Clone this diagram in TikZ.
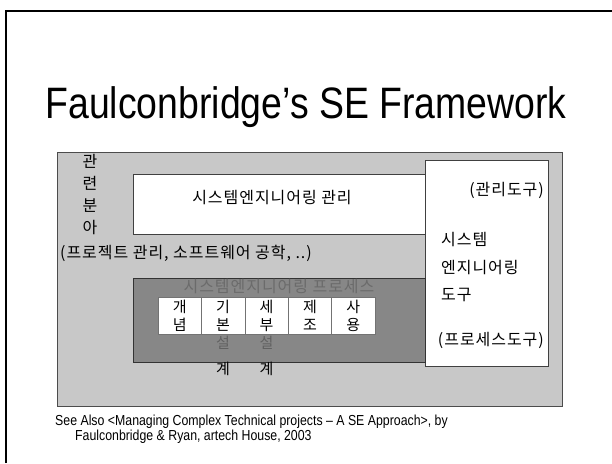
\documentclass[tikz,border=0pt]{standalone}
\usepackage{fontspec}
\setmainfont{Liberation Sans}
\newfontfamily\slidefont[FakeStretch=0.85]{Liberation Sans}
\newfontfamily\kr[LetterSpace=6]{Noto Sans CJK KR}
\usetikzlibrary{positioning}
\definecolor{fieldgray}{HTML}{C8C8C8}
\definecolor{procgray}{HTML}{878787}
\definecolor{proctext}{HTML}{6B6B6B}

\begin{document}
\begin{tikzpicture}[
  x=1pt, y=-1pt,
  field/.style={draw=black!70, fill=fieldgray, line width=0.6pt, inner sep=0pt},
  whitebox/.style={draw=black!75, fill=white, line width=0.6pt, inner sep=0pt},
  procbox/.style={draw=black!80, fill=procgray, line width=0.6pt, inner sep=0pt},
  cell/.style={draw=black!55, fill=white, line width=0.4pt, minimum width=43.4pt, minimum height=37pt, inner sep=0pt, align=center, font=\kr\fontsize{15}{18}\selectfont},
  label/.style={font=\kr\fontsize{16}{22}\selectfont, inner sep=0pt},
  overflow/.style={font=\kr\fontsize{15}{18}\selectfont, inner sep=0pt}
]
\useasboundingbox (0,0) rectangle (612,463);

% slide frame
\draw[line width=1.3pt] (6,463) -- (6,11) -- (612,11);

\node[font=\slidefont\fontsize{44}{50}\selectfont, inner sep=0pt] (title) at (306,107) {Faulconbridge’s SE Framework};

% boxes
\node[field, minimum width=505pt, minimum height=254pt] (field) at (309.5,279) {};
\node[whitebox, minimum width=292pt, minimum height=60pt] (mgmt) at (279,204) {};
\node[whitebox, minimum width=123pt, minimum height=206pt] (tools) at (486.5,263) {};
\node[procbox, minimum width=292pt, minimum height=84pt] (proc) at (279,320) {};

\node[label] (mgmtlabel) at (272,198) {시스템엔지니어링 관리};
\node[label, text=proctext] (proclabel) at (279,287) {시스템엔지니어링 프로세스};

% life-cycle phases
\foreach \a/\b [count=\i] in {개/념,기/본,세/부,제/조,사/용}
  \node[cell] (c\i) at ({136.3+43.4*\i},315.5) {\a\\\b};
\node[overflow, text=black!62, below=2pt of c2] (c2s) {설};
\node[overflow, below=12pt of c2s] (c2g) {계};
\node[overflow, text=black!62, below=2pt of c3] (c3s) {설};
\node[overflow, below=12pt of c3s] (c3g) {계};

% related fields
\node[label, align=center] (related) at (90,195) {관\\련\\분\\아};
\node[label, anchor=west] (relatedlist) at (60,253) {(프로젝트 관리, 소프트웨어 공학, ..)};

% tools column
\node[label, anchor=east] (mgmttools) at (544,190) {(관리도구)};
\node[label, anchor=west] (tool1) at (441,240) {시스템};
\node[label, anchor=west] (tool2) at (441,268) {엔지니어링};
\node[label, anchor=west] (tool3) at (441,295) {도구};
\node[label, anchor=east] (proctools) at (544,340) {(프로세스도구)};

% reference
\node[font=\slidefont\fontsize{14.5}{15}\selectfont, anchor=west, inner sep=0pt] (ref1) at (55,422) {See Also <Managing Complex Technical projects – A SE Approach>, by};
\node[font=\slidefont\fontsize{14.5}{15}\selectfont, anchor=west, inner sep=0pt] (ref2) at (75,437) {Faulconbridge \& Ryan, artech House, 2003};

\end{tikzpicture}
\end{document}
